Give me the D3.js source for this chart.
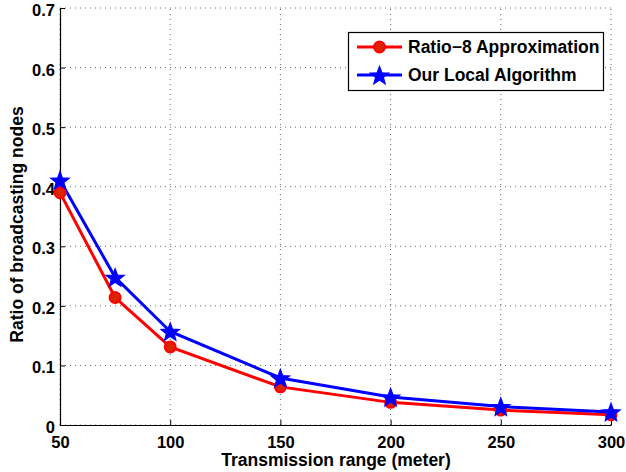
<!DOCTYPE html>
<html><head><meta charset="utf-8">
<script src="https://cdn.jsdelivr.net/npm/d3@7"></script>
<style>body{margin:0;background:#fff}</style>
</head><body>
<svg id="c" width="626" height="472"></svg>
<script>
const xs = [50, 75, 100, 150, 200, 250, 300];
const ratio8 = [0.390, 0.214, 0.131, 0.064, 0.038, 0.025, 0.017];
const ourLocal = [0.411, 0.248, 0.157, 0.079, 0.047, 0.031, 0.022];
const xTicks = [50, 100, 150, 200, 250, 300];
const yTicks = [0, 0.1, 0.2, 0.3, 0.4, 0.5, 0.6, 0.7];
const seriesNames = ["Ratio\u22128 Approximation", "Our Local Algorithm"];

const svg = d3.select("#c");
const L = 60, R = 611, T = 8, B = 425;
const x = d3.scaleLinear().domain([50, 300]).range([L, R]);
const y = d3.scaleLinear().domain([0, 0.7]).range([B, T]);
const font = "Liberation Sans, Arial, sans-serif";

// grid
const g = svg.append("g");
g.selectAll(".gx").data(xTicks).enter().append("line")
  .attr("x1", d => x(d)).attr("x2", d => x(d)).attr("y1", B).attr("y2", T)
  .attr("stroke", "#666").attr("stroke-width", 1).attr("stroke-dasharray", "1,4");
g.selectAll(".gy").data(yTicks).enter().append("line")
  .attr("x1", L).attr("x2", R).attr("y1", d => y(d)).attr("y2", d => y(d))
  .attr("stroke", "#666").attr("stroke-width", 1).attr("stroke-dasharray", "1,4");

// axes
const xAxis = d3.axisBottom(x).tickValues(xTicks).tickSizeInner(-5).tickSizeOuter(0);
const yAxis = d3.axisLeft(y).tickValues(yTicks).tickSizeInner(-5).tickSizeOuter(0)
  .tickFormat(d => d === 0 ? "0" : d3.format(".1f")(d));
const gx = svg.append("g").attr("transform", `translate(0,${B})`).call(xAxis);
const gy = svg.append("g").attr("transform", `translate(${L},0)`).call(yAxis);
[gx, gy].forEach(a => {
  a.select(".domain").attr("stroke", "#000").attr("stroke-width", 1.2);
  a.selectAll(".tick line").attr("stroke", "#000");
  a.selectAll("text").attr("font-family", font).attr("font-weight", "bold")
    .attr("font-size", 16.5).attr("fill", "#000");
});
gx.selectAll("text").attr("y", 22.5).attr("dy", 0);
gy.selectAll("text").attr("x", -5).attr("dy", "0.45em");

// lines
const line = d3.line().x((d, i) => x(xs[i])).y(d => y(d));
const red = "#ff0000", blue = "#0000ff";
svg.append("path").datum(ratio8).attr("d", line).attr("fill", "none")
  .attr("stroke", red).attr("stroke-width", 3);
svg.append("path").datum(ourLocal).attr("d", line).attr("fill", "none")
  .attr("stroke", blue).attr("stroke-width", 3);

// pentagram symbol
const pentagram = {
  draw(ctx, size) {
    const ro = Math.sqrt(size), ri = ro * 0.42;
    for (let k = 0; k < 10; k++) {
      const r = k % 2 === 0 ? ro : ri;
      const a = -Math.PI / 2 + k * Math.PI / 5;
      const px = r * Math.cos(a), py = r * Math.sin(a);
      if (k === 0) ctx.moveTo(px, py); else ctx.lineTo(px, py);
    }
    ctx.closePath();
  }
};
const star = d3.symbol().type(pentagram).size(92);
svg.selectAll(".rc").data(ratio8).enter().append("circle")
  .attr("cx", (d, i) => x(xs[i])).attr("cy", d => y(d)).attr("r", 5.5)
  .attr("fill", "#dd2200").attr("stroke", red).attr("stroke-width", 2);
svg.selectAll(".bs").data(ourLocal).enter().append("path")
  .attr("d", star).attr("transform", (d, i) => `translate(${x(xs[i])},${y(d) + 1})`)
  .attr("fill", blue).attr("stroke", blue).attr("stroke-width", 1.2);

// legend
const lg = svg.append("g");
lg.append("rect").attr("x", 348.5).attr("y", 32.5).attr("width", 255).attr("height", 58)
  .attr("fill", "#fff").attr("stroke", "#000").attr("stroke-width", 1.2);
const ly = [47, 75];
lg.append("line").attr("x1", 357).attr("x2", 402).attr("y1", ly[0]).attr("y2", ly[0])
  .attr("stroke", red).attr("stroke-width", 3);
lg.append("circle").attr("cx", 379.5).attr("cy", ly[0]).attr("r", 5.5)
  .attr("fill", "#dd2200").attr("stroke", red).attr("stroke-width", 2);
lg.append("line").attr("x1", 357).attr("x2", 402).attr("y1", ly[1]).attr("y2", ly[1])
  .attr("stroke", blue).attr("stroke-width", 3);
lg.append("path").attr("d", star).attr("transform", `translate(379.5,${ly[1] + 1})`)
  .attr("fill", blue).attr("stroke", blue).attr("stroke-width", 1.2);
lg.selectAll(".lt").data(seriesNames).enter().append("text")
  .attr("x", 408).attr("y", (d, i) => ly[i] + 6).text(d => d)
  .attr("font-family", font).attr("font-weight", "bold").attr("font-size", 17.5).attr("fill", "#000");

// axis labels
svg.append("text").attr("x", 336).attr("y", 465.5).attr("text-anchor", "middle")
  .attr("font-family", font).attr("font-weight", "bold").attr("font-size", 17.5)
  .text("Transmission range (meter)");
svg.append("text").attr("transform", `translate(23,${(T + B) / 2 + 8}) rotate(-90)`)
  .attr("text-anchor", "middle")
  .attr("font-family", font).attr("font-weight", "bold").attr("font-size", 17.5)
  .text("Ratio of broadcasting nodes");
</script>
</body></html>
